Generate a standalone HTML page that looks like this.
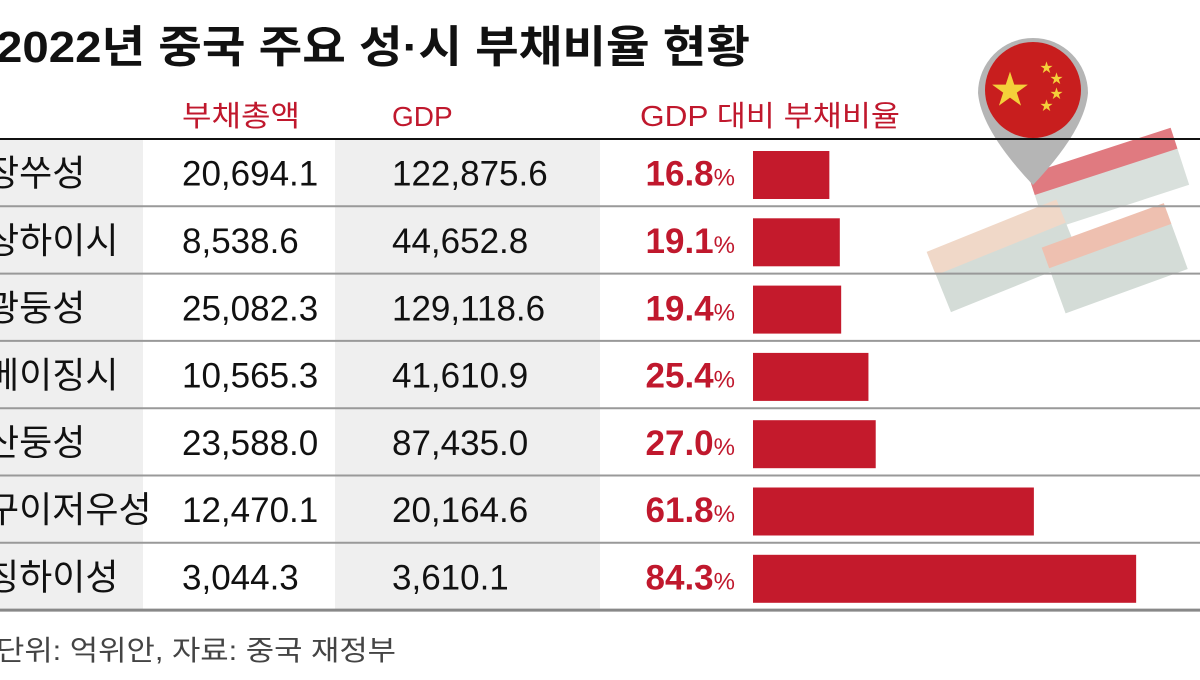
<!DOCTYPE html>
<html><head><meta charset="utf-8">
<style>
body{margin:0;width:1200px;height:675px;overflow:hidden;background:#fff;font-family:"Liberation Sans","Noto Sans CJK KR",sans-serif;}
svg text{font-family:"Liberation Sans","Noto Sans CJK KR",sans-serif;}
</style></head>
<body>
<svg id="chart" width="1200" height="675" viewBox="0 0 1200 675">
  <rect x="0" y="139" width="143" height="471" fill="#efefef"/>
  <rect x="335" y="139" width="265" height="471" fill="#efefef"/>
  <text x="-4" y="62" font-size="44" font-weight="bold" fill="#111" textLength="754" lengthAdjust="spacingAndGlyphs">2022년 중국 주요 성·시 부채비율 현황</text>
  <text x="182" y="126" font-size="29" fill="#c0182d" textLength="118" lengthAdjust="spacingAndGlyphs">부채총액</text>
  <text x="392" y="126" font-size="28" fill="#c0182d">GDP</text>
  <text x="640" y="126" font-size="29" fill="#c0182d" textLength="260" lengthAdjust="spacingAndGlyphs">GDP 대비 부채비율</text>
  <g id="money">
    <g transform="rotate(-18 1110 200)">
      <rect x="1040" y="160" width="150" height="50" fill="#d9e0dc"/>
      <rect x="1040" y="150" width="150" height="22" fill="#e07a80"/>
    </g>
    <g transform="rotate(-22 1000 260)">
      <rect x="935" y="235" width="140" height="55" fill="#d4dcd7"/>
      <rect x="935" y="225" width="140" height="25" fill="#f0d8c8"/>
    </g>
    <g transform="rotate(-20 1110 260)">
      <rect x="1050" y="235" width="130" height="60" fill="#d4dcd7"/>
      <rect x="1050" y="225" width="130" height="22" fill="#eec0b0"/>
    </g>
  </g>
  <g>
    <path d="M978 93 A55 55 0 1 1 1088 93 Q1085 130 1033 185 Q981 130 978 93 Z" fill="#b5b5b5"/>
    <circle cx="1033" cy="90" r="48" fill="#c81e1e"/>
    <text x="1010" y="103" font-size="38" fill="#f4d03a" text-anchor="middle">★</text>
    <text x="1040" y="72" font-size="13" fill="#f4d03a">★</text>
    <text x="1050" y="83" font-size="13" fill="#f4d03a">★</text>
    <text x="1050" y="98" font-size="13" fill="#f4d03a">★</text>
    <text x="1040" y="110" font-size="13" fill="#f4d03a">★</text>
  </g>
  <g id="rows"></g>
  <text x="-4" y="660" font-size="28" fill="#444" textLength="400" lengthAdjust="spacingAndGlyphs">단위: 억위안, 자료: 중국 재정부</text>
</svg>
<script>
const regions = ["장쑤성","상하이시","광둥성","베이징시","산둥성","구이저우성","칭하이성"];
const debtLabels = ["20,694.1","8,538.6","25,082.3","10,565.3","23,588.0","12,470.1","3,044.3"];
const gdpLabels = ["122,875.6","44,652.8","129,118.6","41,610.9","87,435.0","20,164.6","3,610.1"];
const ratios = [16.8,19.1,19.4,25.4,27.0,61.8,84.3];

const top0 = 139, rowH = 67.3, barX0 = 753, pxPerPct = 4.545;
const xScale = v => v * pxPerPct;
const rowY = i => top0 + i * rowH;
const NS = "http://www.w3.org/2000/svg";
const g = document.getElementById('rows');
function mk(tag, attrs, txt){const e=document.createElementNS(NS,tag);for(const k in attrs)e.setAttribute(k,attrs[k]);if(txt!=null)e.textContent=txt;g.appendChild(e);return e;}
regions.forEach((r,i)=>{
  const y = rowY(i), cy = y + rowH/2 + 13;
  let t = mk('text',{x:-14,y:cy,'font-size':36,fill:'#111'},r);
  
  
  t = mk('text',{x:182,y:cy,'font-size':35,fill:'#111'},debtLabels[i]);
  
  
  t = mk('text',{x:392,y:cy,'font-size':35,fill:'#111'},gdpLabels[i]);
  
  
  t = mk('text',{x:735,y:cy,'font-size':35,'font-weight':'bold',fill:'#c0182d','text-anchor':'end'});
  t.innerHTML = ratios[i].toFixed(1)+'<tspan font-size="24" font-weight="normal">%</tspan>';
  
  
  const b = mk('rect',{x:barX0,y:y+12,width:xScale(ratios[i]),height:48,fill:'#c41a2c'});
  
  
  if(i>0){
    const l = mk('line',{x1:0,x2:1200,y1:y,y2:y,stroke:'#999','stroke-width':2});
    
    
  }
});
let l = mk('line',{x1:0,x2:1200,y1:top0,y2:top0,stroke:'#111','stroke-width':2});


l = mk('line',{x1:0,x2:1200,y1:rowY(7),y2:rowY(7),stroke:'#888','stroke-width':3});


</script>
</body></html>
